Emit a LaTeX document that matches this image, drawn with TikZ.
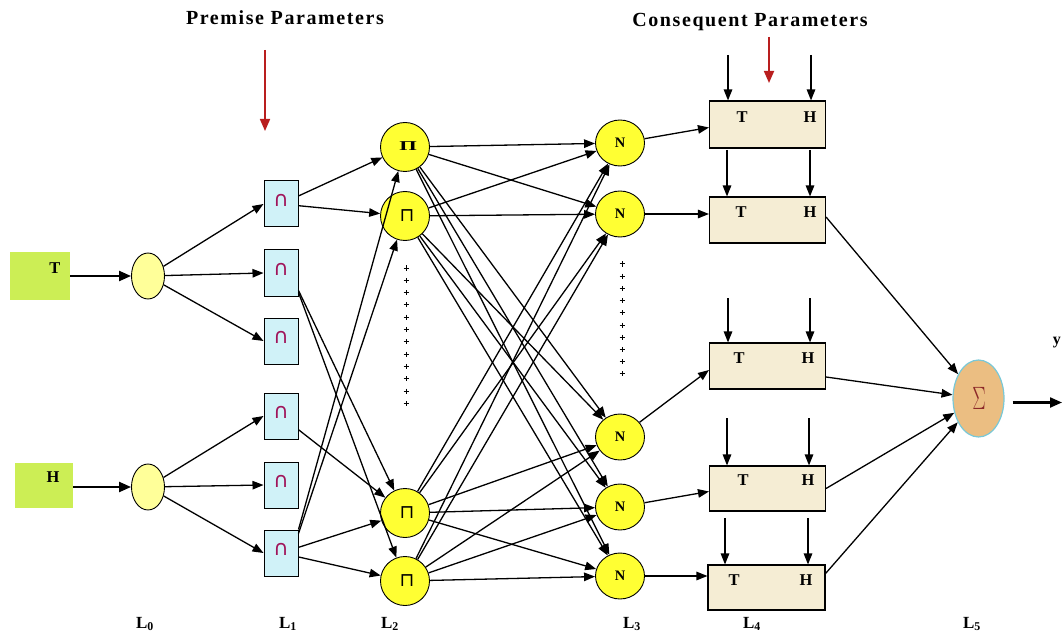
\documentclass[tikz,border=0pt]{standalone}
\usepackage{fontspec}
\setmainfont{Liberation Serif}
\newfontfamily\dejavu{DejaVu Sans}
\usetikzlibrary{arrows.meta,shapes.geometric}
\definecolor{inpgreen}{RGB}{204,238,85}
\definecolor{ellyel}{RGB}{255,255,153}
\definecolor{boxcyan}{RGB}{208,242,248}
\definecolor{circyel}{RGB}{255,255,51}
\definecolor{beige}{RGB}{245,237,212}
\definecolor{sigfill}{RGB}{235,190,130}
\definecolor{sigline}{RGB}{120,200,215}
\definecolor{capred}{RGB}{160,20,90}
\definecolor{parred}{RGB}{185,30,30}
\definecolor{sigred}{RGB}{140,40,40}
\begin{document}
\begin{tikzpicture}[x=1pt,y=-1pt,
  arr/.style={line width=1.3pt,-{Triangle[length=11pt,width=8.5pt]}},
  fatarr/.style={line width=2.2pt,-{Triangle[length=12pt,width=10pt]}},
  redarr/.style={parred,line width=1.7pt,-{Triangle[length=12pt,width=10pt]}},
  inbox/.style={draw=none,fill=inpgreen,minimum width=60pt,minimum height=47pt,inner sep=0},
  fuzz/.style={ellipse,draw,fill=ellyel,minimum width=33pt,minimum height=46pt,inner sep=0,line width=0.9pt},
  mfbox/.style={draw,fill=boxcyan,minimum width=34pt,minimum height=46pt,inner sep=0,line width=1pt},
  rulec/.style={circle,draw,fill=circyel,minimum size=49pt,inner sep=0,line width=0.9pt},
  normc/.style={ellipse,draw,fill=circyel,minimum width=49pt,minimum height=46pt,inner sep=0,line width=0.9pt},
  cons/.style={draw,fill=beige,minimum width=116pt,minimum height=46pt,inner sep=0,line width=1.1pt},
  bold/.style={font=\fontsize{16.5}{16.5}\selectfont\bfseries,inner sep=0},
  capsym/.style={font=\dejavu\fontsize{21}{21}\selectfont,text=capred,inner sep=0},
  sqsym/.style={font=\dejavu\fontsize{19}{19}\selectfont,inner sep=0},
  nsym/.style={font=\fontsize{14.5}{14.5}\selectfont\bfseries,inner sep=0},
  lbl/.style={font=\fontsize{17}{17}\selectfont\bfseries,anchor=base,inner sep=0},
  title/.style={font=\fontsize{20}{20}\selectfont\bfseries\addfontfeature{LetterSpace=8},inner sep=0}
]
\useasboundingbox (0,0) rectangle (1062,636);

% titles
\node[title] (prem) at (285,18) {Premise Parameters};
\node[title] (conseq) at (750,22) {Consequent Parameters};
\coordinate (pr0) at (265,50);
\coordinate (pr1) at (265,131);
\draw[redarr] (pr0) -- (pr1);
\coordinate (cr0) at (769,37);
\coordinate (cr1) at (769,83);
\draw[redarr] (cr0) -- (cr1);

% inputs
\node[inbox] (tin) at (40,276) {};
\node[bold] (tlab) at (55,268) {T};
\node[inbox,minimum width=58pt,minimum height=45pt] (hin) at (44,485) {};
\node[bold] (hlab) at (53,477) {H};

% layer 0
\node[fuzz] (e1) at (148,276) {};
\node[fuzz] (e2) at (148,487) {};
\draw[fatarr] (tin) -- (e1);
\draw[fatarr] (hin.east |- e2) -- (e2);

% layer 1
\foreach \i/\y in {1/204,2/273,3/341,4/416,5/485,6/553}{
  \node[mfbox] (m\i) at (281,\y) {};
  \node[capsym] (m\i s) at (281,\y-4) {∩};
}
\foreach \i in {1,2,3}{ \draw[arr] (e1) -- (m\i.west); }
\foreach \i in {4,5,6}{ \draw[arr] (e2) -- (m\i.west); }

% layer 2
\node[rulec] (c1) at (405,147) {};
\node[font=\fontsize{15}{15}\selectfont\bfseries,inner sep=0] (c1s) at (408,146) {\scalebox{1.5}[0.9]{Π}};
\foreach \i/\y in {2/216,3/513,4/581}{
  \node[rulec] (c\i) at (405,\y) {};
  \node[sqsym] (c\i s) at (407,\y) {⊓};
}
\foreach \k in {0,...,11}{
  \draw[line width=1pt] (403.5,268+12.3*\k) -- (408.5,268+12.3*\k) (406,265.5+12.3*\k) -- (406,270.5+12.3*\k);
}

\draw[arr] (m1) -- (c1);
\draw[arr] (m1) -- (c2);
\draw[arr] ([yshift=6pt]m2.south east) -- (c3);
\draw[arr] ([yshift=4pt]m2.south east) -- (c4);
\draw[arr] (m4) -- (c3);
\draw[arr] (m6.north east) -- (c1);
\draw[arr] ([yshift=-4pt]m6.north east) -- (c2);
\draw[arr] (m6) -- (c3);
\draw[arr] (m6) -- (c4);

% layer 3
\foreach \i/\y in {1/143,2/214,3/437,4/507,5/576}{
  \node[normc] (n\i) at (620,\y) {};
  \node[nsym] (n\i s) at (620,\y) {N};
}
\foreach \k in {0,...,9}{
  \draw[line width=1pt] (619.5,264+12.2*\k) -- (624.5,264+12.2*\k) (622,261.5+12.2*\k) -- (622,266.5+12.2*\k);
}
\foreach \i in {1,...,4}{
  \foreach \j in {1,...,5}{
    \draw[arr] (c\i) -- (n\j);
  }
}

% layer 4
\node[cons,minimum height=47pt] (b1) at (767.5,124.5) {};
\node[cons] (b2) at (767.5,220) {};
\node[cons] (b3) at (767.5,366) {};
\node[cons,minimum height=45pt] (b4) at (767.5,488.5) {};
\node[cons,minimum width=117pt,minimum height=45pt] (b5) at (766.5,587.5) {};
\foreach \i/\t/\h/\y in {1/742/810/117,2/741/810/212,3/739/808/358,4/743/808/480,5/734/806/580}{
  \node[bold] (b\i t) at (\t,\y) {T};
  \node[bold] (b\i h) at (\h,\y) {H};
}
% parameter arrows
\foreach \i/\xa/\xb/\ys in {1/728/811/55,2/727/810/150,3/728/810/298,4/727/809/418,5/725/808/518}{
  \coordinate (pa\i) at (\xa,\ys);
  \coordinate (pb\i) at (\xb,\ys);
  \draw[arr] (pa\i) -- (pa\i |- b\i.north);
  \draw[arr] (pb\i) -- (pb\i |- b\i.north);
}

\draw[arr] (n1) -- ([yshift=-3pt]b1.west);
\draw[arr] (n2) -- (n2 -| b2.west);
\draw[arr] (n3) -- ([yshift=-4pt]b3.west);
\draw[arr] (n4) -- ([yshift=-3pt]b4.west);
\draw[arr] (n5) -- (n5 -| b5.west);

% layer 5
\node[ellipse,draw=sigline,fill=sigfill,line width=1.2pt,minimum width=51pt,minimum height=77pt,inner sep=0] (sig) at (978.5,398.5) {};
\node[text=sigred,inner sep=0] (sigs) at (979,398) {\scalebox{0.8}[1.3]{\fontsize{24}{24}\selectfont$\Sigma$}};
\draw[arr] ([yshift=3pt]b2.east) -- (sig);
\draw[arr] ([yshift=-11pt]b3.east) -- (sig);
\draw[arr] (b4.east) -- (sig);
\draw[arr] ([yshift=14pt]b5.east) -- (sig);
\coordinate (yout) at (1062,402.5);
\draw[fatarr] ([xshift=8pt,yshift=-4pt]sig.east) -- (yout);
\node[font=\fontsize{16}{16}\selectfont\bfseries,anchor=east,inner sep=0] (ylab) at (1061,343) {y};

% layer labels
\node[lbl] (l0) at (145,628) {L$_{\mathbf{0}}$};
\node[lbl] (l1) at (288,628) {L$_{\mathbf{1}}$};
\node[lbl] (l2) at (390,628) {L$_{\mathbf{2}}$};
\node[lbl] (l3) at (632,628) {L$_{\mathbf{3}}$};
\node[lbl] (l4) at (752,628) {L$_{\mathbf{4}}$};
\node[lbl] (l5) at (972,628) {L$_{\mathbf{5}}$};
\end{tikzpicture}
\end{document}
